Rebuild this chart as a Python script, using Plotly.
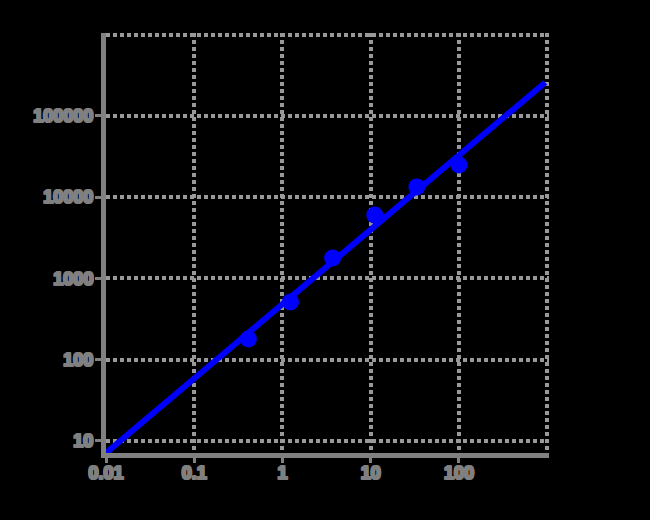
import plotly.graph_objects as go

# Data (3-fold dilution series)
conc = [0.41, 1.23, 3.7, 11.1, 33.3, 100]
signal = [179, 512, 1780, 6000, 13300, 24800]

# Fitted power-law line endpoints
fit_x = [0.01, 950]
fit_y = [7.1, 258000]

x_tickvals = [0.01, 0.1, 1, 10, 100]
x_ticktext = ["0.01", "0.1", "1", "10", "100"]
x_edge = [1000]
y_tickvals = [10, 100, 1000, 10000, 100000]
y_ticktext = ["10", "100", "1000", "10000", "100000"]
y_edge = [1000000]

GREY = "#808080"
GRID = "#999999"
BLUE = "#0000ff"
shadow = (f"1px 0 0 {GREY}, -1px 0 0 {GREY}, 0 1px 0 {GREY}, 0 -1px 0 {GREY}, "
          f"1px 1px 0 {GREY}, -1px -1px 0 {GREY}, 1px -1px 0 {GREY}, -1px 1px 0 {GREY}")

fig = go.Figure()
fig.add_trace(go.Scatter(x=fit_x, y=fit_y, mode="lines",
                         line=dict(color=BLUE, width=6), showlegend=False))
fig.add_trace(go.Scatter(x=conc, y=signal, mode="markers",
                         marker=dict(color=BLUE, size=17), showlegend=False))

tickfont = dict(family="Liberation Sans, Arial, sans-serif", size=18,
                color=GREY, weight="bold", shadow=shadow)

common = dict(type="log", showgrid=True, gridcolor=GRID, gridwidth=4,
              griddash="4px,3px", showline=True, linecolor=GREY, linewidth=5,
              ticks="outside", tickwidth=3, tickcolor=GREY,
              tickfont=tickfont, zeroline=False)

fig.update_layout(
    width=650, height=520,
    paper_bgcolor="black", plot_bgcolor="black",
    margin=dict(l=106, r=101, t=33, b=67),
    xaxis=dict(range=[-2, 3.02], tickvals=x_tickvals, ticktext=x_ticktext,
               ticklen=5, ticklabelstandoff=-6,
               minor=dict(tickvals=x_edge, showgrid=True, gridcolor=GRID,
                          gridwidth=4, griddash="4px,3px", ticks=""),
               **common),
    yaxis=dict(range=[0.85, 6.02], tickvals=y_tickvals, ticktext=y_ticktext,
               ticklen=6, ticklabelstandoff=-2,
               minor=dict(tickvals=y_edge, showgrid=True, gridcolor=GRID,
                          gridwidth=4, griddash="4px,3px", ticks=""),
               **common),
)

fig.write_html("out.html", config={"displayModeBar": False},
               post_script="document.body.style.margin='0';document.body.style.background='black';")
